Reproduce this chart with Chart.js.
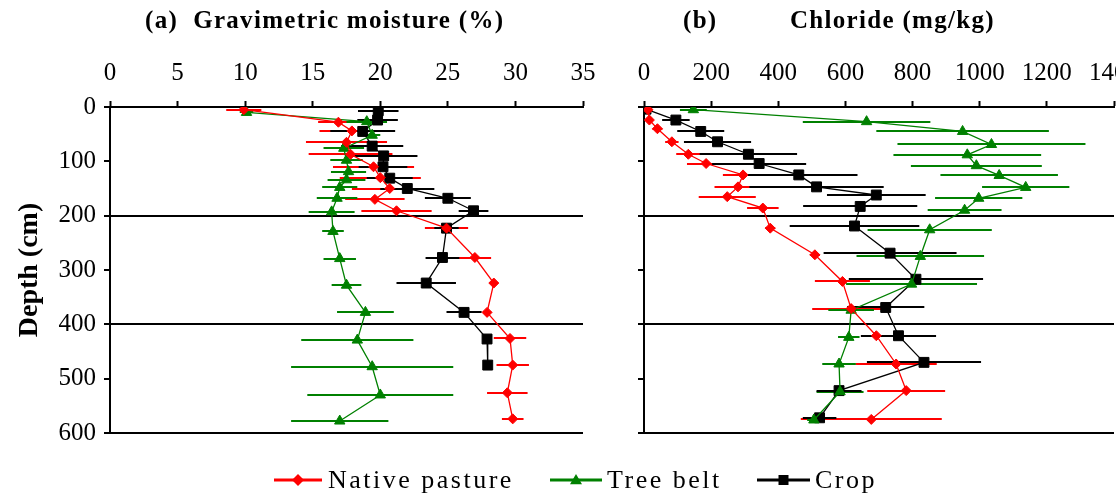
<!DOCTYPE html>
<html>
<head>
<meta charset="utf-8">
<script src="https://cdn.jsdelivr.net/npm/chart.js@4.4.1/dist/chart.umd.min.js"></script>
<style>
  html, body { margin: 0; padding: 0; background: #fff; overflow: hidden; }
  #wrap { position: relative; width: 1116px; height: 494px; overflow: hidden; }
  #wrap canvas { position: absolute; left: 0; top: 0; }
</style>
</head>
<body>
<div id="wrap">
  <canvas id="moisture" width="1152" height="494"></canvas>
  <canvas id="chloride" width="1152" height="494"></canvas>
</div>
<script>
// --- axis ticks ---
const depthTicks = [0, 100, 200, 300, 400, 500, 600];
const depthRefLines = [200, 400, 600];
const moistTicks = [0, 5, 10, 15, 20, 25, 30, 35];
const chlorideTicks = [0, 200, 400, 600, 800, 1000, 1200, 1400];

// --- (a) gravimetric moisture (%) vs depth (cm) ---
const pastureDepthA = [5, 28, 44, 65, 87, 110, 130, 150, 170, 191, 223, 277, 324, 378, 426, 475, 526, 574];
const pastureMoist = [9.9, 16.9, 17.9, 17.5, 17.8, 19.5, 20.0, 20.7, 19.6, 21.2, 24.9, 27.0, 28.4, 27.9, 29.6, 29.8, 29.4, 29.8];
const pastureMoistErr = [1.3, 1.5, 2.4, 3.0, 3.1, 3.0, 3.0, 2.8, 2.2, 2.6, 1.6, 1.2, 0.3, 0.3, 1.2, 1.2, 1.5, 0.8];

const treeDepthA = [10, 27, 52, 76, 98, 119, 134, 148, 168, 193, 229, 279, 328, 378, 429, 478, 530, 578];
const treeMoist = [10.1, 19.0, 19.4, 17.3, 17.5, 17.65, 17.5, 17.0, 16.8, 16.4, 16.5, 17.0, 17.5, 18.9, 18.3, 19.4, 20.0, 17.0];
const treeMoistErr = [0.5, 1.5, 0.6, 1.5, 1.2, 1.3, 1.4, 1.3, 1.5, 1.7, 0.8, 1.2, 1.1, 2.1, 4.15, 6.0, 5.4, 3.6];

const cropDepthA = [7, 24, 45, 72, 90, 110, 131, 150, 168, 191, 223, 277, 324, 378, 427, 475];
const cropMoist = [19.85, 19.8, 18.7, 19.4, 20.25, 20.2, 20.7, 22.0, 25.0, 26.9, 24.9, 24.6, 23.4, 26.2, 27.9, 27.95];
const cropMoistErr = [1.5, 1.5, 2.4, 2.3, 2.5, 1.8, 1.7, 2.0, 1.7, 1.1, 0.9, 1.25, 2.2, 1.3, 0.3, 0.3];

// --- (b) chloride (mg/kg) vs depth (cm) ---
const pastureDepthB = [5, 24, 40, 64, 87, 104, 125, 147, 165, 186, 223, 272, 321, 371, 421, 473, 522, 575];
const pastureCl = [12, 16, 40, 83, 132, 185, 295, 280, 248, 354, 376, 509, 591, 617, 692, 751, 781, 677];
const pastureClErr = [5, 8, 15, 20, 36, 57, 60, 70, 85, 47, 15, 15, 82, 116, 20, 121, 116, 210];

const treeDepthB = [5, 27, 45, 69, 88, 108, 126, 148, 168, 190, 226, 275, 326, 374, 424, 473, 524, 576];
const treeCl = [147, 663, 949, 1035, 963, 990, 1058, 1137, 997, 955, 851, 823, 797, 617, 610, 581, 584, 506];
const treeClErr = [40, 190, 257, 280, 220, 195, 175, 130, 130, 110, 185, 190, 195, 68, 32, 50, 70, 20];

const cropDepthB = [4, 24, 45, 64, 87, 104, 125, 147, 162, 183, 219, 269, 317, 369, 421, 470, 522, 572];
const cropCl = [6, 95, 169, 219, 311, 343, 461, 514, 692, 644, 627, 733, 810, 720, 758, 834, 581, 523];
const cropClErr = [5, 41, 70, 100, 145, 140, 175, 200, 147, 170, 193, 198, 200, 115, 112, 170, 67, 50];

const SERIF = "'Liberation Serif', 'Times New Roman', serif";
Chart.defaults.font.family = SERIF;
Chart.defaults.color = '#000';

const RED = '#ff0000', GREEN = '#008000', BLACK = '#000000';

const toPoints = (xs, ys) => xs.map((v, i) => ({ x: v, y: ys[i] }));

const makeSeries = (label, color, style, radius, xs, depths, errs) => ({
  label,
  data: toPoints(xs, depths),
  errors: errs,
  showLine: true,
  borderColor: color,
  backgroundColor: color,
  borderWidth: 1.3,
  pointStyle: style,
  pointRadius: radius,
  pointBorderWidth: 1,
  pointBorderColor: color,
  pointBackgroundColor: color,
  tension: 0
});

// horizontal error bars, drawn under the markers
const errorBars = {
  id: 'errorBars',
  beforeDatasetsDraw(chart) {
    const { ctx, scales: { x, y } } = chart;
    ctx.save();
    ctx.lineWidth = 2;
    chart.data.datasets.forEach(ds => {
      ctx.strokeStyle = ds.borderColor;
      ds.data.forEach((p, i) => {
        const e = ds.errors[i] || 0;
        const py = Math.round(y.getPixelForValue(p.y));
        ctx.beginPath();
        ctx.moveTo(x.getPixelForValue(p.x - e), py);
        ctx.lineTo(x.getPixelForValue(p.x + e), py);
        ctx.stroke();
      });
    });
    ctx.restore();
  }
};

const drawMarker = (ctx, shape, x, y, r) => {
  ctx.beginPath();
  if (shape === 'rectRot') {
    ctx.moveTo(x, y - r); ctx.lineTo(x + r, y); ctx.lineTo(x, y + r); ctx.lineTo(x - r, y);
  } else if (shape === 'triangle') {
    ctx.moveTo(x, y - r); ctx.lineTo(x + r, y + r * 0.7); ctx.lineTo(x - r, y + r * 0.7);
  } else {
    ctx.rect(x - r, y - r, 2 * r, 2 * r);
  }
  ctx.closePath();
  ctx.fill();
};

// panel headings
const panelTitles = {
  id: 'panelTitles',
  afterDraw(chart, args, opts) {
    const ctx = chart.ctx;
    ctx.save();
    ctx.fillStyle = '#000';
    ctx.font = 'bold 25px ' + SERIF;
    ctx.textBaseline = 'middle';
    ctx.textAlign = 'left';
    if ('letterSpacing' in ctx) ctx.letterSpacing = '1.3px';
    (opts.items || []).forEach(t => ctx.fillText(t.text, t.x, t.y));
    ctx.restore();
  }
};

// key under both panels: line with marker, then label
const seriesKey = {
  id: 'seriesKey',
  afterDraw(chart, args, opts) {
    if (!opts.items) return;
    const ctx = chart.ctx;
    ctx.save();
    ctx.font = '26px ' + SERIF;
    ctx.textBaseline = 'middle';
    ctx.textAlign = 'left';
    if ('letterSpacing' in ctx) ctx.letterSpacing = '2.5px';
    opts.items.forEach(k => {
      ctx.strokeStyle = k.color;
      ctx.fillStyle = k.color;
      ctx.lineWidth = 3;
      ctx.beginPath();
      ctx.moveTo(k.from, opts.y);
      ctx.lineTo(k.to, opts.y);
      ctx.stroke();
      drawMarker(ctx, k.shape, (k.from + k.to) / 2, opts.y, k.r);
      ctx.fillStyle = '#000';
      ctx.fillText(k.label, k.textX, opts.y + 1);
    });
    ctx.restore();
  }
};

function panelOptions(cfg) {
  return {
    responsive: false,
    animation: false,
    events: [],
    layout: { padding: cfg.padding },
    plugins: {
      legend: { display: false },
      tooltip: { enabled: false },
      panelTitles: { items: cfg.titles },
      seriesKey: cfg.key || {}
    },
    scales: {
      x: {
        type: 'linear',
        position: 'top',
        min: cfg.xTicks[0],
        max: cfg.xTicks[cfg.xTicks.length - 1],
        afterBuildTicks: s => { s.ticks = cfg.xTicks.map(v => ({ value: v })); },
        afterFit: s => { s.height = 107; },
        border: { display: true, color: '#000', width: 2 },
        grid: { drawOnChartArea: false, drawTicks: true, tickLength: 6, tickColor: '#000', tickWidth: 2 },
        ticks: { color: '#000', padding: 13, font: { size: 25 }, maxRotation: 0, autoSkip: false, callback: v => String(v) }
      },
      y: {
        type: 'linear',
        reverse: true,
        min: depthTicks[0],
        max: depthTicks[depthTicks.length - 1],
        afterBuildTicks: s => { s.ticks = depthTicks.map(v => ({ value: v })); },
        afterFit: s => { s.width = cfg.yWidth; },
        border: { display: true, color: '#000', width: 2 },
        grid: {
          color: c => (c.tick && depthRefLines.includes(c.tick.value)) ? '#000' : 'rgba(0,0,0,0)',
          lineWidth: 2,
          drawTicks: true,
          tickLength: 6,
          tickColor: '#000',
          tickWidth: 2
        },
        ticks: {
          color: cfg.yLabels ? '#000' : 'rgba(0,0,0,0)',
          padding: 8,
          font: { size: 25 },
          autoSkip: false,
          callback: v => String(v)
        },
        title: {
          display: cfg.yLabels,
          text: 'Depth (cm)',
          color: '#000',
          font: { size: 28, weight: 'bold' },
          padding: { top: 13, bottom: 0 }
        }
      }
    }
  };
}

new Chart(document.getElementById('moisture'), {
  type: 'scatter',
  data: {
    datasets: [
      makeSeries('Native pasture', RED, 'rectRot', 5, pastureMoist, pastureDepthA, pastureMoistErr),
      makeSeries('Tree belt', GREEN, 'triangle', 6, treeMoist, treeDepthA, treeMoistErr),
      makeSeries('Crop', BLACK, 'rect', 7, cropMoist, cropDepthA, cropMoistErr)
    ]
  },
  options: panelOptions({
    padding: { left: 0, top: 0, right: 569, bottom: 61 },
    xTicks: moistTicks,
    yWidth: 110,
    yLabels: true,
    titles: [{ text: '(a)  Gravimetric moisture (%)', x: 145, y: 22 }]
  }),
  plugins: [errorBars, panelTitles, seriesKey]
});

new Chart(document.getElementById('chloride'), {
  type: 'scatter',
  data: {
    datasets: [
      makeSeries('Native pasture', RED, 'rectRot', 5, pastureCl, pastureDepthB, pastureClErr),
      makeSeries('Tree belt', GREEN, 'triangle', 6, treeCl, treeDepthB, treeClErr),
      makeSeries('Crop', BLACK, 'rect', 7, cropCl, cropDepthB, cropClErr)
    ]
  },
  options: panelOptions({
    padding: { left: 634, top: 0, right: 25, bottom: 61 },
    xTicks: chlorideTicks,
    yWidth: 10,
    yLabels: false,
    titles: [{ text: '(b)', x: 683, y: 22 }, { text: 'Chloride (mg/kg)', x: 790, y: 22 }],
    key: {
      y: 480,
      items: [
        { label: 'Native pasture', color: RED, shape: 'rectRot', r: 6, from: 274, to: 322, textX: 328 },
        { label: 'Tree belt', color: GREEN, shape: 'triangle', r: 6, from: 550, to: 602, textX: 607 },
        { label: 'Crop', color: BLACK, shape: 'rect', r: 5, from: 757, to: 810, textX: 815 }
      ]
    }
  }),
  plugins: [errorBars, panelTitles, seriesKey]
});
</script>
</body>
</html>
